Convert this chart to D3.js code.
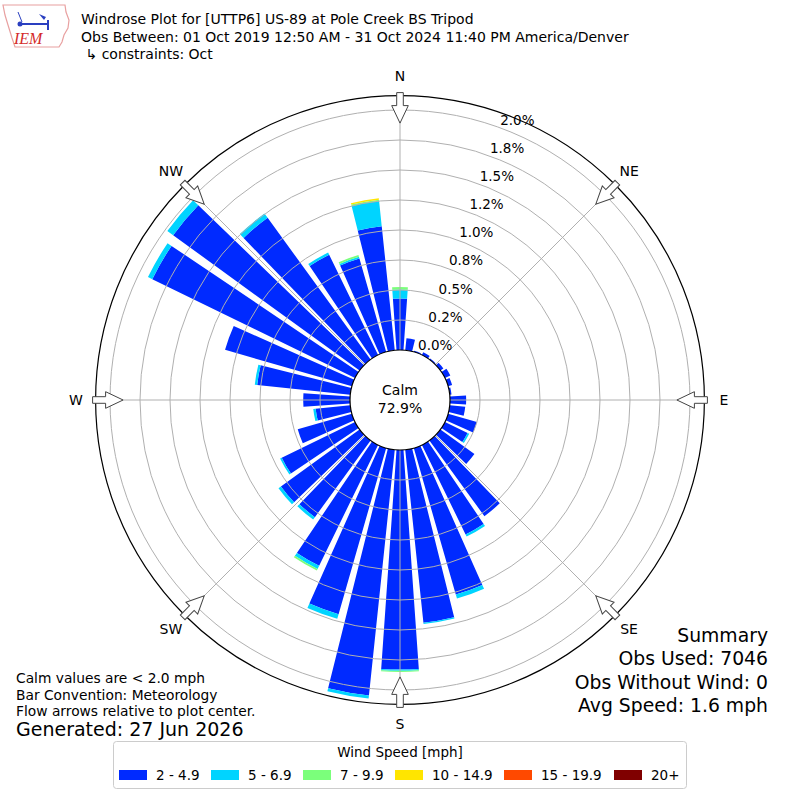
<!DOCTYPE html>
<html>
<head>
<meta charset="utf-8">
<script src="https://cdn.jsdelivr.net/npm/d3@7"></script>
<style>
  body { margin: 0; background: white; }
  text { font-family: "DejaVu Sans", sans-serif; }
</style>
</head>
<body>
<div id="container"></div>
<script>
// wind direction bins (degrees) and frequency (%) per speed bin
let directions = [0,10,20,30,40,50,60,70,80,90,100,110,120,130,140,150,160,170,
                  180,190,200,210,220,230,240,250,260,270,280,290,300,310,320,330,340,350];
let speed2to5   = [0.43,0.10,0.01,0.025,0.01,0.03,0.05,0.035,0.015,0.135,0.13,0.25,0.21,0.35,0.78,0.83,1.27,1.45,
                   1.83,2.06,1.44,1.12,0.79,0.81,0.68,0.47,0.29,0.39,0.78,1.10,1.88,1.92,1.46,0.93,0.81,1.04];
let speed5to7   = [0.075,0,0,0,0,0,0,0,0,0,0,0,0.015,0,0,0.02,0.035,0.01,
                   0.01,0.025,0.04,0.03,0.025,0.025,0.015,0,0.02,0,0.02,0,0.04,0.06,0.045,0.02,0.015,0.21];
let speed7to10  = [0.02,0,0,0,0,0,0,0,0,0,0,0,0,0,0,0,0,0,
                   0.01,0,0,0.015,0,0,0,0,0,0,0,0,0,0,0,0,0.015,0.012];
let speed10to15 = [0,0,0,0,0,0,0,0,0,0,0,0,0,0,0,0,0,0,
                   0,0,0,0,0,0,0,0,0,0,0,0,0,0,0,0,0,0.012];
let speed15to20 = [0,0,0,0,0,0,0,0,0,0,0,0,0,0,0,0,0,0,
                   0,0,0,0,0,0,0,0,0,0,0,0,0,0,0,0,0,0];
let speed20plus = [0,0,0,0,0,0,0,0,0,0,0,0,0,0,0,0,0,0,
                   0,0,0,0,0,0,0,0,0,0,0,0,0,0,0,0,0,0];
let speedKeys   = ["s1","s2","s3","s4","s5","s6"];
let speedLabels = ["2 - 4.9","5 - 6.9","7 - 9.9","10 - 14.9","15 - 19.9","20+"];
let speedColors = ["#002aff","#00d4ff","#7bff7b","#ffe500","#ff4900","#800000"];

let ringValues = [0,0.25,0.5,0.75,1.0,1.25,1.5,1.75,2.0];
let ringLabels = ["0.0%","0.2%","0.5%","0.8%","1.0%","1.2%","1.5%","1.8%","2.0%"];
let compassAngles = [0,45,90,135,180,225,270,315];
let compassLabels = ["N","NE","E","SE","S","SW","W","NW"];

let calmPct = "72.9%";
let titleLines = ["Windrose Plot for [UTTP6] US-89 at Pole Creek BS Tripod",
                  "Obs Between: 01 Oct 2019 12:50 AM - 31 Oct 2024 11:40 PM America/Denver",
                  " \u21B3 constraints: Oct"];
let noteLines = ["Calm values are < 2.0 mph","Bar Convention: Meteorology","Flow arrows relative to plot center."];
let summaryLines = ["Summary","Obs Used: 7046","Obs Without Wind: 0","Avg Speed: 1.6 mph"];

let w = 800;
let h = 800;
let cx = 400;
let cy = 400;
let rMax = 2.12;
let gridColor = "#b0b0b0";

let viz = d3.select("#container")
  .append("svg")
    .attr("width", w)
    .attr("height", h)
    .style("background-color", "white")
;

let rows = directions.map(function(d, i){
  return {dir: d, s1: speed2to5[i], s2: speed5to7[i], s3: speed7to10[i],
          s4: speed10to15[i], s5: speed15to20[i], s6: speed20plus[i]};
});

let rScale = d3.scaleLinear().domain([0, rMax]).range([50, 304.4]);
let aScale = d3.scaleLinear().domain([0, 360]).range([0, 2*Math.PI]);
let halfWidth = 4; // bars are 8 degrees wide

let stacked = d3.stack().keys(speedKeys)(rows);

let plot = viz.append("g").attr("transform", "translate("+cx+","+cy+")");

let arc = d3.arc();

// bars
plot.selectAll(".layer").data(stacked).enter()
  .append("g")
    .attr("class", "layer")
    .attr("fill", function(d, i){ return speedColors[i]; })
  .selectAll("path").data(function(d){ return d; }).enter()
  .append("path")
    .attr("d", function(d){
      return arc({
        innerRadius: rScale(d[0]),
        outerRadius: rScale(d[1]),
        startAngle: aScale(d.data.dir - halfWidth),
        endAngle: aScale(d.data.dir + halfWidth)
      });
    })
;

// grid rings (on top of the bars)
plot.selectAll(".ring").data(ringValues.slice(1)).enter()
  .append("circle")
    .attr("class", "ring")
    .attr("r", function(d){ return rScale(d); })
    .style("fill", "none")
    .style("stroke", gridColor)
    .style("stroke-width", 1)
;

// spokes
plot.selectAll(".spoke").data(compassAngles).enter()
  .append("line")
    .attr("class", "spoke")
    .attr("x1", function(d){ return rScale(0)*Math.sin(aScale(d)); })
    .attr("y1", function(d){ return -rScale(0)*Math.cos(aScale(d)); })
    .attr("x2", function(d){ return rScale(rMax)*Math.sin(aScale(d)); })
    .attr("y2", function(d){ return -rScale(rMax)*Math.cos(aScale(d)); })
    .style("stroke", gridColor)
    .style("stroke-width", 1)
;

// calm circle
plot.append("circle")
  .attr("r", rScale(0))
  .style("fill", "white")
  .style("stroke", "black")
  .style("stroke-width", 1.2)
;
plot.append("text")
  .text("Calm")
  .attr("x", 0)
  .attr("y", -5)
  .attr("text-anchor", "middle")
  .attr("font-size", 14)
;
plot.append("text")
  .text(calmPct)
  .attr("x", 0)
  .attr("y", 13)
  .attr("text-anchor", "middle")
  .attr("font-size", 14)
;

// outer circle
plot.append("circle")
  .attr("r", rScale(rMax))
  .style("fill", "none")
  .style("stroke", "black")
  .style("stroke-width", 1.2)
;

// ring labels
let labelAngle = aScale(20);
plot.selectAll(".rlabel").data(ringValues).enter()
  .append("text")
    .attr("class", "rlabel")
    .text(function(d, i){ return ringLabels[i]; })
    .attr("x", function(d){ return rScale(d)*Math.sin(labelAngle) + 1; })
    .attr("y", function(d){ return -rScale(d)*Math.cos(labelAngle) - 3; })
    .attr("font-size", 13.5)
;

// flow arrows pointing to the center
let R = rScale(rMax);
let arrowPath = "M -3.3 " + (-R-3) + " L 3.3 " + (-R-3) + " L 3.3 " + (-R+10) +
  " L 8.3 " + (-R+10) + " L 0 " + (-R+27.5) + " L -8.3 " + (-R+10) +
  " L -3.3 " + (-R+10) + " Z";
plot.selectAll(".arrow").data(compassAngles).enter()
  .append("path")
    .attr("class", "arrow")
    .attr("d", arrowPath)
    .attr("transform", function(d){ return "rotate("+d+")"; })
    .style("fill", "white")
    .style("stroke", "#444444")
    .style("stroke-width", 1)
;

// compass labels
plot.selectAll(".clabel").data(compassAngles).enter()
  .append("text")
    .attr("class", "clabel")
    .text(function(d, i){ return compassLabels[i]; })
    .attr("x", function(d){ return 324*Math.sin(aScale(d)); })
    .attr("y", function(d){ return -324*Math.cos(aScale(d)) + 5; })
    .attr("text-anchor", "middle")
    .attr("font-size", 14)
;

// title
viz.selectAll(".title").data(titleLines).enter()
  .append("text")
    .attr("class", "title")
    .text(function(d){ return d; })
    .attr("x", 81)
    .attr("y", function(d, i){ return 24 + i*17.5; })
    .attr("font-size", 14)
    .style("white-space", "pre")
;

// logo
let logo = viz.append("g");
logo.append("path")
  .attr("d", "M 3 5 L 65 5 L 66 12 L 69 20 L 68 28 L 64 35 L 62 42 L 59 47 L 15 47 L 12 38 L 8 25 L 5 15 Z")
  .style("fill", "none")
  .style("stroke", "#e8a0a0")
  .style("stroke-width", 1.2)
;
logo.append("line")
  .attr("x1", 22).attr("y1", 24).attr("x2", 48).attr("y2", 24)
  .style("stroke", "#2a3fc0").style("stroke-width", 2)
;
logo.append("line")
  .attr("x1", 48).attr("y1", 20).attr("x2", 48).attr("y2", 30)
  .style("stroke", "#2a3fc0").style("stroke-width", 2)
;
logo.append("path")
  .attr("d", "M 39 14 L 46 17 L 44 20 Z")
  .style("fill", "#2a3fc0")
;
logo.append("line")
  .attr("x1", 18).attr("y1", 12).attr("x2", 22).attr("y2", 22)
  .style("stroke", "#2a3fc0").style("stroke-width", 1)
;
logo.append("circle")
  .attr("cx", 20).attr("cy", 24).attr("r", 2.5)
  .style("fill", "#2a3fc0")
;
logo.append("text")
  .text("IEM")
  .attr("x", 14)
  .attr("y", 44)
  .attr("font-size", 16)
  .attr("font-style", "italic")
  .attr("fill", "#d42a2a")
  .style("font-family", "'Liberation Serif', serif")
;

// notes bottom left
viz.selectAll(".note").data(noteLines).enter()
  .append("text")
    .attr("class", "note")
    .text(function(d){ return d; })
    .attr("x", 16)
    .attr("y", function(d, i){ return 683 + i*16.5; })
    .attr("font-size", 13.8)
;
viz.append("text")
  .text("Generated: 27 Jun 2026")
  .attr("x", 16)
  .attr("y", 736)
  .attr("font-size", 19)
;

// summary bottom right
viz.selectAll(".summary").data(summaryLines).enter()
  .append("text")
    .attr("class", "summary")
    .text(function(d){ return d; })
    .attr("x", 768)
    .attr("y", function(d, i){ return 642 + i*23.3; })
    .attr("text-anchor", "end")
    .attr("font-size", 18.8)
;

// legend
let legend = viz.append("g");
legend.append("rect")
  .attr("x", 113.5)
  .attr("y", 741.5)
  .attr("width", 573)
  .attr("height", 47)
  .attr("rx", 3)
  .style("fill", "white")
  .style("stroke", "#cccccc")
  .style("stroke-width", 1)
;
legend.append("text")
  .text("Wind Speed [mph]")
  .attr("x", 400)
  .attr("y", 757)
  .attr("text-anchor", "middle")
  .attr("font-size", 13.5)
;
let legendX = d3.scaleOrdinal().domain(speedLabels).range([119, 211, 303, 395, 504, 614]);
let legendItems = legend.selectAll(".litem").data(speedLabels).enter()
  .append("g")
    .attr("class", "litem")
    .attr("transform", function(d){ return "translate("+legendX(d)+",770)"; })
;
legendItems.append("rect")
  .attr("x", 0)
  .attr("y", 0)
  .attr("width", 28)
  .attr("height", 10)
  .style("fill", function(d, i){ return speedColors[i]; })
;
legendItems.append("text")
  .text(function(d){ return d; })
  .attr("x", 37)
  .attr("y", 10)
  .attr("font-size", 13.5)
;
</script>
</body>
</html>
